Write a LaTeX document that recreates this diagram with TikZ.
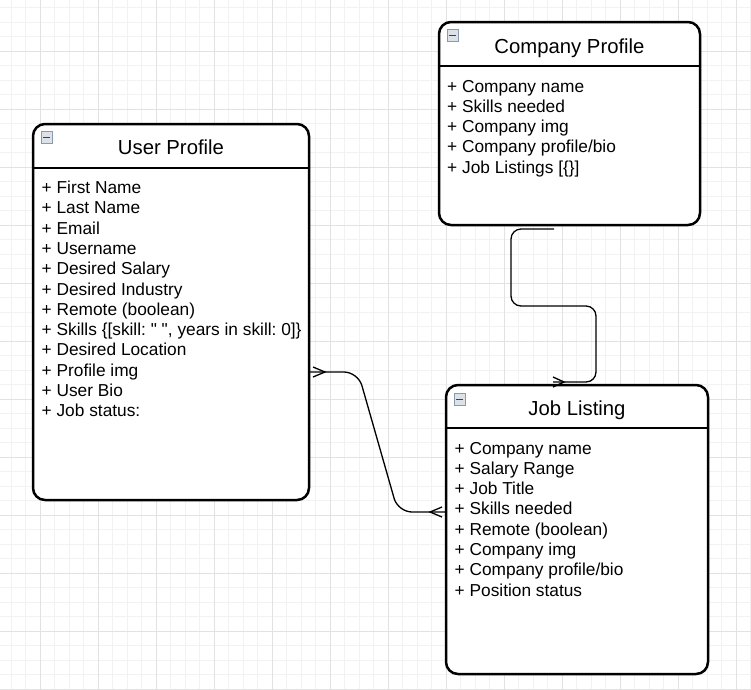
\documentclass[tikz,border=0pt]{standalone}
\usepackage{fontspec}
\setmainfont{Liberation Sans}
\usetikzlibrary{calc}
\frenchspacing
\definecolor{gridminor}{HTML}{F2F2F2}
\definecolor{gridmajor}{HTML}{E2E2E2}
\definecolor{iconborder}{HTML}{8A99AD}
\definecolor{iconfill}{HTML}{DDE2E8}
\begin{document}
\frenchspacing
\begin{tikzpicture}[x=1pt,y=-1pt,
  entity/.style={draw=black, line width=2.5pt, rounded corners=12pt, anchor=north west, inner sep=0pt, outer sep=0pt},
  headline/.style={line width=2.5pt},
  titletext/.style={font=\fontsize{20.3}{24}\selectfont, anchor=base, inner sep=0pt},
  itemtext/.style={font=\fontsize{17.3}{20}\selectfont\frenchspacing, anchor=base west, inner sep=0pt},
  icon/.style={draw=iconborder, fill=iconfill, line width=0.9pt, minimum width=11.5pt, minimum height=11.5pt, inner sep=0pt, anchor=north west,
    path picture={\draw[line width=1.4pt, color=black!75] ($(path picture bounding box.west)+(2.5,0)$) -- ($(path picture bounding box.east)+(-2.5,0)$);}},
  conn/.style={draw=black, line width=1.3pt},
  foot/.style={draw=black, line width=1.3pt}
]
\useasboundingbox[fill=white] (0,0) rectangle (751,689);
% grid
\foreach \k in {-2,...,49} {\draw[gridminor, line width=0.7pt] ({40+14.5*\k},0) -- ({40+14.5*\k},689);}
\foreach \k in {-3,...,44} {\draw[gridminor, line width=0.7pt] (0,{51+14.5*\k}) -- (751,{51+14.5*\k});}
\foreach \k in {0,...,12} {\draw[gridmajor, line width=0.7pt] ({40+58*\k},0) -- ({40+58*\k},689);}
\foreach \k in {-1,...,11} {\draw[gridmajor, line width=0.7pt] (0,{51+58*\k}) -- (751,{51+58*\k});}

% entities
\node[entity, minimum width=276pt, minimum height=376pt, fill=white] (up) at (33,124) {};
\node[entity, minimum width=261pt, minimum height=203pt, fill=white] (cp) at (439,22) {};
\node[entity, minimum width=262pt, minimum height=289pt, fill=white] (jl) at (446,385) {};

\draw[headline] ($(up.north west)+(0,44)$) -- ($(up.north east)+(0,44)$);
\draw[headline] ($(cp.north west)+(0,44)$) -- ($(cp.north east)+(0,44)$);
\draw[headline] ($(jl.north west)+(0,43)$) -- ($(jl.north east)+(0,43)$);

% icons
\node[icon] (upicon) at ($(up.north west)+(7.5,7)$) {};
\node[icon] (cpicon) at ($(cp.north west)+(7.5,7)$) {};
\node[icon] (jlicon) at ($(jl.north west)+(7.5,8)$) {};

% titles
\node[titletext] (uptitle) at ($(up.north)+(0,30)$) {User Profile};
\node[titletext] (cptitle) at ($(cp.north)+(0,31)$) {Company Profile};
\node[titletext] (jltitle) at ($(jl.north)+(0,30)$) {Job Listing};

% items
\foreach [count=\i from 0] \t in {{+ First Name},{+ Last Name},{+ Email},{+ Username},{+ Desired Salary},{+ Desired Industry},{+ Remote (boolean)},{+ Skills \{[skill: \textquotedbl\ \textquotedbl, years in skill: 0]\}},{+ Desired Location},{+ Profile img},{+ User Bio},{+ Job status:}}
  \node[itemtext] (u\i) at ($(up.north west)+(8.5,{69.5+20.3*\i})$) {\t};
\foreach [count=\i from 0] \t in {{+ Company name},{+ Skills needed},{+ Company img},{+ Company profile/bio},{+ Job Listings [\{\}]}}
  \node[itemtext] (c\i) at ($(cp.north west)+(8,{70+20.3*\i})$) {\t};
\foreach [count=\i from 0] \t in {{+ Company name},{+ Salary Range},{+ Job Title},{+ Skills needed},{+ Remote (boolean)},{+ Company img},{+ Company profile/bio},{+ Position status}}
  \node[itemtext] (j\i) at ($(jl.north west)+(8.5,{69+20.3*\i})$) {\t};

% connector user profile -- job listing
\draw[conn, rounded corners=14pt] ($(up.north east)+(0,248)$) -- ($(up.north east)+(49,248)$) -- ($(jl.north west)+(-48,127)$) -- ($(jl.north west)+(0,127)$);
\draw[foot] ($(up.north east)+(4,243)$) -- ($(up.north east)+(16,248)$) -- ($(up.north east)+(4,253)$);
\draw[foot] ($(jl.north west)+(-4,122)$) -- ($(jl.north west)+(-16,127)$) -- ($(jl.north west)+(-4,132)$);

% connector company profile -- job listing
\draw[conn, rounded corners=10pt] ($(cp.south west)+(115,4)$) -- ($(cp.south west)+(72,4)$) -- ($(cp.south west)+(72,81)$) -- ($(cp.south west)+(157,81)$) -- ($(jl.north west)+(150,-3)$) -- ($(jl.north west)+(107,-3)$);
\draw[foot] ($(jl.north west)+(107,-8)$) -- ($(jl.north west)+(118,-3)$) -- ($(jl.north west)+(107,2)$);
\end{tikzpicture}
\end{document}
